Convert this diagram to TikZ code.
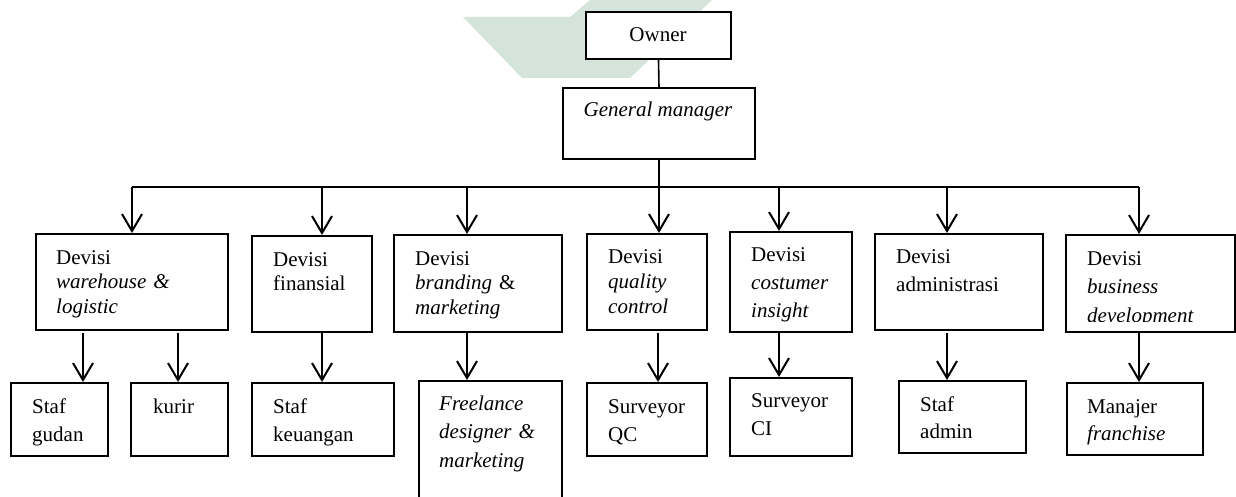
\documentclass[tikz,border=0pt]{standalone}
\usepackage{fontspec}
\setmainfont{Liberation Serif}
\usetikzlibrary{arrows.meta,fit}
\definecolor{wmark}{RGB}{212,228,219}
\begin{document}
\begin{tikzpicture}[x=1pt,y=-1pt,
  box/.style={draw, line width=2pt, inner sep=0pt, fill=white},
  txt/.style={anchor=base west, inner sep=0pt, text width=200pt, align=left,
              font=\fontsize{21}{#1}\selectfont},
  txt/.default=28,
  ctxt/.style={anchor=base, inner sep=0pt, font=\fontsize{21}{25}\selectfont},
  link/.style={line width=2pt},
  arr/.style={line width=2pt, -{Straight Barb[length=17pt,width=20pt]}}]

\clip (0,0) rectangle (1236,497);

% faint logo shape in the background
\fill[wmark] (463,17) -- (570,17) -- (590,0) -- (712,0) -- (630,78) -- (522,78) -- cycle;

% top of the chart
\node[box, line width=1.6pt, fit={(586,12) (731,59)}] (owner) {};
\node[box, line width=1.6pt, fit={(563,88) (755,159)}] (gm) {};
\node[ctxt] (towner) at (658,42) {Owner};
\node[ctxt] (tgm) at (658,117) {\itshape General manager};

% divisions
\node[box, fit={(36,234) (228,330)}]   (d1) {};
\node[box, fit={(252,236) (372,332)}]  (d2) {};
\node[box, fit={(394,235) (562,332)}]  (d3) {};
\node[box, fit={(587,234) (707,330)}]  (d4) {};
\node[box, fit={(730,232) (852,332)}]  (d5) {};
\node[box, fit={(875,234) (1043,330)}] (d6) {};
\node[box, fit={(1066,235) (1235,332)}] (d7) {};

\node[txt=24.5] (td1) at (56,264)  {Devisi\\\textit{warehouse \&}\\\textit{logistic}};
\node[txt=24]   (td2) at (273,266) {Devisi\\finansial};
\node[txt=24.5] (td3) at (415,265) {Devisi\\\textit{branding} \&\\\textit{marketing}};
\node[txt=25]   (td4) at (608,263) {Devisi\\\textit{quality}\\\textit{control}};
\node[txt=28]   (td5) at (751,261) {Devisi\\\textit{costumer}\\\textit{insight}};
\node[txt=28]   (td6) at (896,263) {Devisi\\administrasi};
\begin{scope}
  \clip (1066,235) rectangle (1235,321);
  \node[txt=28.5] (td7) at (1087,265) {Devisi\\\textit{business}\\\textit{development}};
\end{scope}

% staff
\node[box, fit={(11,383) (108,456)}]    (s1) {};
\node[box, fit={(131,383) (228,456)}]   (s2) {};
\node[box, fit={(252,383) (394,456)}]   (s3) {};
\node[box, fit={(419,381) (562,530)}]   (s4) {};
\node[box, fit={(587,383) (707,456)}]   (s5) {};
\node[box, fit={(730,378) (852,456)}]   (s6) {};
\node[box, fit={(899,381) (1026,453)}]  (s7) {};
\node[box, fit={(1067,383) (1203,455)}] (s8) {};

\node[txt] (ts1) at (32,413)   {Staf\\gudan};
\node[txt] (ts2) at (153,413)  {kurir};
\node[txt] (ts3) at (273,413)  {Staf\\keuangan};
\node[txt=28.5] (ts4) at (439,410) {\itshape Freelance\\designer \&\\marketing};
\node[txt] (ts5) at (608,413)  {Surveyor\\QC};
\node[txt] (ts6) at (751,407)  {Surveyor\\CI};
\node[txt=27] (ts7) at (920,411)  {Staf\\admin};
\node[txt=27] (ts8) at (1087,413) {Manajer\\\textit{franchise}};

% connectors
\draw[link, line width=1.6pt] (owner.south) -- (gm.north);
\coordinate (b1) at (132,187);
\coordinate (b2) at (322,187);
\coordinate (b3) at (467,187);
\coordinate (b4) at (659,187);
\coordinate (b5) at (779,187);
\coordinate (b6) at (947,187);
\coordinate (b7) at (1139,187);
\draw[link, line width=1.6pt] (gm.south) -- (b4);
\draw[link] (b1) -- (b7);
\foreach \i in {1,...,7} {
  \draw[arr] (b\i) -- (b\i |- d\i.north);
}

\coordinate (c1) at (83,333);
\coordinate (c2) at (178,333);
\coordinate (c3) at (322,333);
\coordinate (c4) at (467,333);
\coordinate (c5) at (658,333);
\coordinate (c6) at (779,333);
\coordinate (c7) at (947,333);
\coordinate (c8) at (1139,333);
\foreach \i in {1,...,8} {
  \draw[arr] (c\i) -- (c\i |- s\i.north);
}
\end{tikzpicture}
\end{document}
